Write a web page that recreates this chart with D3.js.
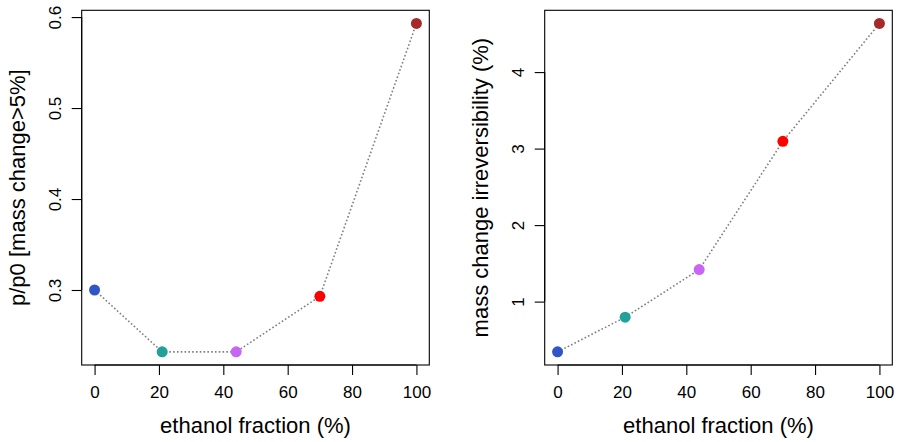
<!DOCTYPE html>
<html><head><meta charset="utf-8">
<script src="https://cdn.jsdelivr.net/npm/d3@7"></script>
<style>
body{margin:0;background:#fff;}
text{font-family:"Liberation Sans",Arial,Helvetica,sans-serif;fill:#000;}
</style></head>
<body>
<svg id="c" width="901" height="442"></svg>
<script>
const ethanol = [0, 21, 44, 70, 100];
const pRatio = [0.300, 0.232, 0.232, 0.293, 0.593];
const irreversibility = [0.343, 0.796, 1.418, 3.095, 4.636];
const pointColors = ["#2f55c8", "#22a09a", "#c865f5", "#ff0000", "#a52a2a"];
const xTicks = [0, 20, 40, 60, 80, 100];
const yTicksLeft = [0.3, 0.4, 0.5, 0.6];
const yTicksRight = [1, 2, 3, 4];
const xLabel = "ethanol fraction (%)";
const yLabelLeft = "p/p0 [mass change>5%]";
const yLabelRight = "mass change irreversibility (%)";

const svg = d3.select("#c");

function pad(ext){const d=(ext[1]-ext[0])*0.04;return [ext[0]-d, ext[1]+d];}

function panel(left, right, top, bottom, ys, yTicks, yFmt, yLab){
  const x = d3.scaleLinear().domain(pad(d3.extent(ethanol))).range([left, right]);
  const y = d3.scaleLinear().domain(pad(d3.extent(ys))).range([bottom, top]);
  const g = svg.append("g");
  g.append("rect").attr("x", left).attr("y", top).attr("width", right-left).attr("height", bottom-top)
    .attr("fill","none").attr("stroke","#000").attr("stroke-width",1.1);
  const xa = g.append("g").attr("transform", `translate(0,${bottom})`)
    .call(d3.axisBottom(x).tickValues(xTicks).tickSize(10).tickSizeOuter(0).tickFormat(d3.format("d")));
  xa.select(".domain").attr("d", `M${x(xTicks[0])},0H${x(xTicks[xTicks.length-1])}`).attr("stroke-width",1.1);
  xa.selectAll(".tick line").attr("stroke-width",1.1);
  xa.selectAll(".tick text").attr("font-size",17).attr("y",0).attr("dy",null).attr("transform","translate(0,32.5)");
  const ya = g.append("g").attr("transform", `translate(${left},0)`)
    .call(d3.axisLeft(y).tickValues(yTicks).tickSize(10).tickSizeOuter(0).tickFormat(yFmt));
  ya.select(".domain").attr("d", `M0,${y(yTicks[0])}V${y(yTicks[yTicks.length-1])}`).attr("stroke-width",1.1);
  ya.selectAll(".tick line").attr("stroke-width",1.1);
  ya.selectAll(".tick text").attr("font-size",17).attr("x",null).attr("dy",null)
    .attr("text-anchor","middle").attr("transform","translate(-20.5,0) rotate(-90)");
  g.append("text").attr("x",(left+right)/2).attr("y",432.7).attr("text-anchor","middle")
    .attr("font-size",22).text(xLabel);
  g.append("text").attr("transform",`translate(${left-56.5},${(top+bottom)/2}) rotate(-90)`)
    .attr("text-anchor","middle").attr("font-size",22).text(yLab);
  const line = d3.line().x((d,i)=>x(ethanol[i])).y(d=>y(d));
  g.append("path").datum(ys).attr("d", line).attr("fill","none")
    .attr("stroke","#7f7f7f").attr("stroke-width",1.6).attr("stroke-dasharray","1.6,2.2");
  g.selectAll("circle").data(ys).join("circle")
    .attr("cx",(d,i)=>x(ethanol[i])).attr("cy",d=>y(d)).attr("r",5.5)
    .attr("fill",(d,i)=>pointColors[i]);
}

panel(81.7, 429.3, 10.3, 365, pRatio, yTicksLeft, d3.format(".1f"), yLabelLeft);
panel(544.7, 892.3, 10.3, 365, irreversibility, yTicksRight, d3.format("d"), yLabelRight);
</script>
</body></html>
